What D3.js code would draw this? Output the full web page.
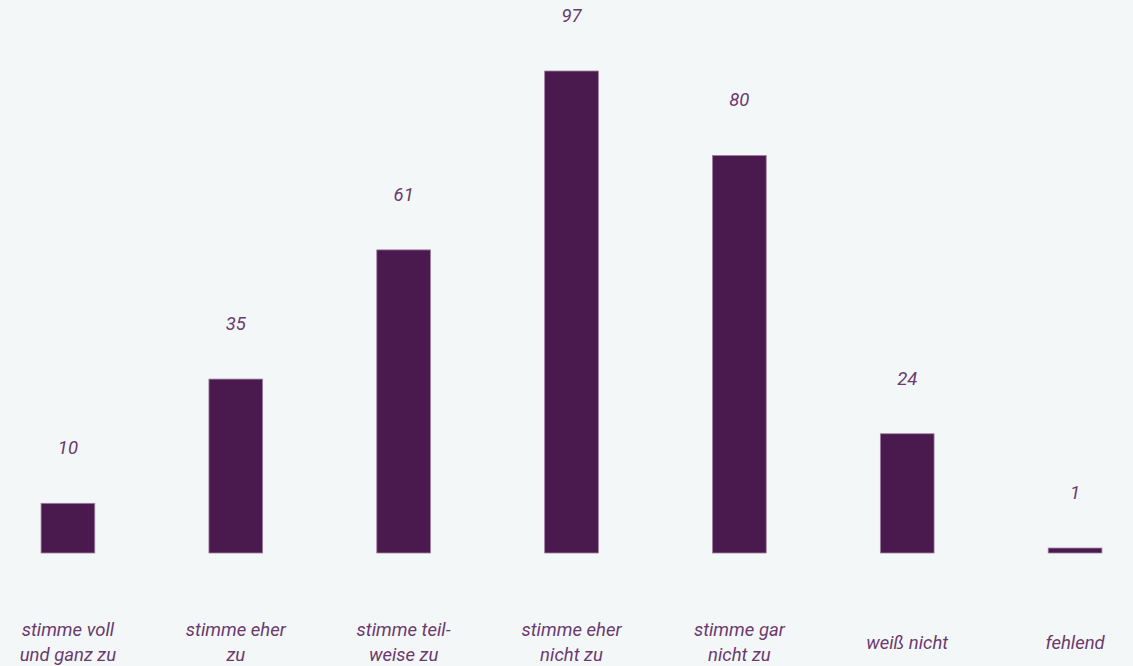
<!DOCTYPE html>
<html><head><meta charset="utf-8">
<script src="https://cdn.jsdelivr.net/npm/d3@7"></script>
<style>
html,body{margin:0;padding:0;background:#f4f7f8;}
svg{display:block;}
text{font-family:Roboto,"Open Sans",sans-serif;font-style:italic;font-weight:400;fill:#6a3a6e;}
</style></head>
<body>
<script>
const categories = [
  ["stimme voll","und ganz zu"],
  ["stimme eher","zu"],
  ["stimme teil-","weise zu"],
  ["stimme eher","nicht zu"],
  ["stimme gar","nicht zu"],
  ["weiß nicht"],
  ["fehlend"]
];
const values = [10, 35, 61, 97, 80, 24, 1];

const W = 1133, H = 666;
const svg = d3.select("body").append("svg").attr("width", W).attr("height", H);

const idx = d3.range(values.length);
const x = d3.scaleBand().domain(idx).range([-16, 1159]).paddingInner(0.68).paddingOuter(0.34);
const y = d3.scaleLinear().domain([0, 97]).range([553, 71]);

svg.append("g").selectAll("rect").data(idx).join("rect")
  .attr("x", i => x(i))
  .attr("y", i => y(values[i]))
  .attr("width", x.bandwidth())
  .attr("height", i => y(0) - y(values[i]))
  .attr("fill", "#4a1a4e")
  .attr("stroke", "#a07fa3")
  .attr("stroke-width", 0.8);

svg.append("g").selectAll("text").data(idx).join("text")
  .attr("x", i => x(i) + x.bandwidth() / 2)
  .attr("y", i => y(values[i]) - 49)
  .attr("text-anchor", "middle")
  .attr("font-size", 18.5)
  .text(i => values[i]);

const lab = svg.append("g").selectAll("text").data(idx).join("text")
  .attr("x", i => x(i) + x.bandwidth() / 2)
  .attr("y", i => categories[i].length === 1 ? 649 : 636)
  .attr("text-anchor", "middle")
  .attr("font-size", 18.5);
lab.each(function(i) {
  const t = d3.select(this);
  categories[i].forEach((line, k) => {
    t.append("tspan")
      .attr("x", x(i) + x.bandwidth() / 2)
      .attr("dy", k === 0 ? 0 : 25)
      .text(line);
  });
});
</script>
</body></html>
